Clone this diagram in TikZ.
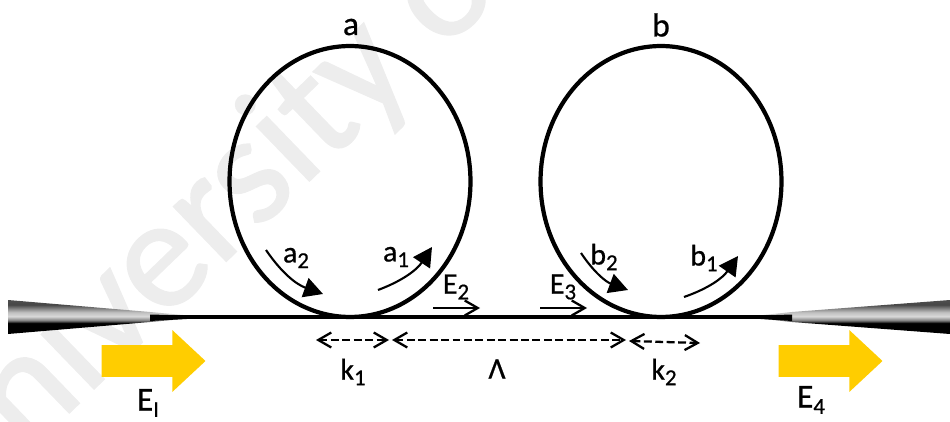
\documentclass[tikz,border=0pt]{standalone}
\usepackage{fontspec}
\setmainfont{Carlito}
\newfontfamily\dmedium[FakeBold=0.7]{Carlito}
\newfontfamily\dmarkfont[FakeBold=1.2]{Carlito}
\usetikzlibrary{arrows.meta,shapes.geometric,shapes.arrows}
\definecolor{dgold}{HTML}{FFCD00}
\pgfdeclareverticalshading{tapershade}{100bp}{color(0bp)=(black); color(41bp)=(black); color(45bp)=(black!50); color(51bp)=(black!15); color(57bp)=(black!25); color(68bp)=(black!72); color(100bp)=(black!62)}
\newcommand{\dsub}[1]{\raisebox{-0.4ex}{\fontsize{13}{13}\selectfont #1}}
\tikzset{
  dring/.style={draw, ellipse, line width=2.4pt, inner sep=0pt, minimum width=4.82cm, minimum height=5.42cm},
  dpump/.style={single arrow, fill=dgold, inner sep=0pt, minimum width=1.22cm, minimum height=2.08cm, single arrow head extend=0.3cm, single arrow tip angle=86, single arrow head indent=0pt},
  dlabel/.style={font=\fontsize{19}{19}\selectfont\dmedium, inner sep=0pt},
  dfield/.style={font=\fontsize{17}{17}\selectfont\dmedium, inner sep=0pt},
  dflow/.style={-{Triangle[length=3.8mm,width=4mm]}, line width=1.2pt},
  dprop/.style={-{Straight Barb[length=2.6mm,width=3mm]}, line width=1.3pt},
  dspan/.style={{Straight Barb[length=2.6mm,width=3mm]}-{Straight Barb[length=2.6mm,width=3mm]}, line width=1.3pt, dash pattern=on 4.5pt off 2pt},
  dtaper/.style={shading=tapershade},
  dmark/.style={font=\fontsize{90}{90}\selectfont\dmarkfont, text=black!7, inner sep=0pt}
}
\begin{document}
\begin{tikzpicture}[x=0.02cm,y=-0.02cm]
\useasboundingbox (0,0) rectangle (950,422);
\clip (0,0) rectangle (950,422);
\node[dmark, rotate=44, anchor=west] (mark) at (-76,495) {University of};
% rings
\node[dring] (ringa) at (350,181.5) {};
\node[dring] (ringb) at (661,181.5) {};
\node[dlabel] (laba) at (351,27) {a};
\node[dlabel] (labb) at (661,25) {b};
% tapered fibre
\coordinate (fibl) at (150,317);
\coordinate (fibr) at (792,317);
\shade[dtaper] (8,300) -- (150,312) -- (205,317) -- (150,322) -- (8,334) -- cycle;
\shade[dtaper] (950,300) -- (792,312) -- (745,317) -- (792,322) -- (950,334) -- cycle;
\fill[black] (150,314.5) -- (205,316) -- (205,318) -- (150,321) -- cycle;
\fill[black] (792,314.5) -- (745,316) -- (745,318) -- (792,321) -- cycle;
\draw[line width=2.3pt] (fibl) -- (fibr);
% pump arrows
\node[dpump] (pumpin) at (145,361) {\rule{0pt}{0.62cm}};
\node[dpump] (pumpout) at (822,361) {\rule{0pt}{0.62cm}};
\node[dlabel] (ei) at (148,403) {E\dsub{I}};
\node[dlabel] (e4) at (811,400) {E\dsub{4}};
% ring modes
\coordinate (a2s) at (266,250);
\coordinate (a2e) at (323,294);
\coordinate (a1s) at (378,290);
\coordinate (a1e) at (432,247);
\coordinate (b2s) at (581,253);
\coordinate (b2e) at (628,290);
\coordinate (b1s) at (684,297);
\coordinate (b1e) at (738,256);
\draw[dflow] (a2s) to[bend right=18] (a2e);
\draw[dflow] (a1s) to[bend right=18] (a1e);
\draw[dflow] (b2s) to[bend right=18] (b2e);
\draw[dflow] (b1s) to[bend right=18] (b1e);
\node[dfield] (laba2) at (296,258) {a\dsub{2}};
\node[dfield] (laba1) at (396,257) {a\dsub{1}};
\node[dfield] (labb2) at (604,257) {b\dsub{2}};
\node[dfield] (labb1) at (704,258) {b\dsub{1}};
% fields on the bus
\coordinate (e2s) at (433,308);
\coordinate (e2e) at (480,308);
\coordinate (e3s) at (540,308);
\coordinate (e3e) at (587,308);
\draw[dprop] (e2s) -- (e2e);
\draw[dprop] (e3s) -- (e3e);
\node[dfield] (labe2) at (456,287) {E\dsub{2}};
\node[dfield] (labe3) at (563,287) {E\dsub{3}};
% spans
\coordinate (k1s) at (316,340);
\coordinate (k1e) at (389,340);
\coordinate (ls) at (392,340);
\coordinate (le) at (626,340);
\coordinate (k2s) at (629,341);
\coordinate (k2e) at (700,343);
\draw[dspan] (k1s) -- (k1e);
\draw[dspan] (ls) -- (le);
\draw[dspan] (k2s) -- (k2e);
\node[dfield] (labk1) at (353,372) {k\dsub{1}};
\node[dfield] (labl) at (497,369) {Λ};
\node[dfield] (labk2) at (664,372) {k\dsub{2}};
\end{tikzpicture}
\end{document}
